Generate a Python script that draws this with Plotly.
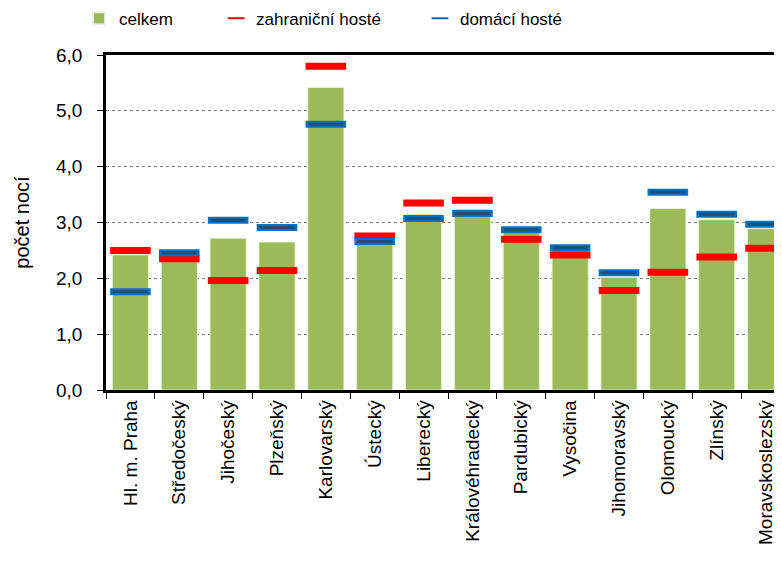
import plotly.graph_objects as go

categories = ["Hl. m. Praha", "Středočeský", "Jihočeský", "Plzeňský", "Karlovarský",
              "Ústecký", "Liberecký", "Královéhradecký", "Pardubický", "Vysočina",
              "Jihomoravský", "Olomoucký", "Zlínský", "Moravskoslezský"]
celkem = [2.42, 2.45, 2.72, 2.65, 5.42, 2.70, 3.15, 3.24, 2.86, 2.54, 2.02, 3.25, 3.05, 2.89]
zahranicni = [2.50, 2.35, 1.96, 2.14, 5.80, 2.76, 3.35, 3.40, 2.70, 2.42, 1.78, 2.11, 2.38, 2.54]
domaci = [1.76, 2.46, 3.04, 2.91, 4.76, 2.66, 3.07, 3.16, 2.87, 2.55, 2.10, 3.54, 3.15, 2.97]
y_ticks = [0, 1, 2, 3, 4, 5, 6]

FONT = "Liberation Sans, Arial, sans-serif"

fig = go.Figure()
fig.add_trace(go.Bar(
    x=categories, y=celkem, name="celkem", width=0.74,
    marker=dict(color="#9BBB59", line=dict(color="rgba(235,242,225,0.9)", width=1)),
    legend="legend",
))
fig.add_trace(go.Scatter(
    x=categories, y=zahranicni, name="zahraniční hosté", mode="markers",
    marker=dict(symbol="line-ew", size=29, color="#FF0000",
                line=dict(color="#FF0000", width=7)),
    legend="legend2",
))
fig.add_trace(go.Scatter(
    x=categories, y=domaci, name="domácí hosté", mode="markers",
    marker=dict(symbol="line-ew", size=29, color="#0070C0",
                line=dict(color="#0070C0", width=7)),
    legend="legend3",
))
fig.add_trace(go.Scatter(
    x=categories, y=domaci, name="domácí hosté", mode="markers", showlegend=False,
    marker=dict(symbol="line-ew", size=25, color="#1F4E79",
                line=dict(color="#1F4E79", width=3)),
    hoverinfo="skip",
))

legend_common = dict(orientation="h", xref="paper", yref="paper", y=1.108, yanchor="middle",
                     xanchor="left", font=dict(family=FONT, size=17, color="#000"),
                     bgcolor="rgba(0,0,0,0)", itemsizing="constant", itemwidth=30)

# page body has a small margin, so the figure is offset to compensate;
# the plot area runs past the right edge of the window as in the reference
fig.update_layout(
    width=782, height=555,
    margin=dict(l=98, r=0, t=47, b=173, autoexpand=False),
    paper_bgcolor="white", plot_bgcolor="white",
    separators=", ",
    font=dict(family=FONT, color="#000"),
    legend=dict(x=-0.0395, **legend_common),
    legend2=dict(x=0.161, **legend_common),
    legend3=dict(x=0.459, **legend_common),
    xaxis=dict(
        type="category", range=[-0.5, len(categories) - 0.5],
        showline=True, linecolor="#000", linewidth=2.5, mirror=True,
        ticks="outside", ticklen=6, tickcolor="#000", tickwidth=1, tickson="boundaries",
        tickangle=-90, tickfont=dict(family=FONT, size=19, color="#000"),
        showgrid=False, automargin=False,
    ),
    yaxis=dict(
        range=[0, 6], tickvals=y_ticks, tickformat=".1f",
        showline=True, linecolor="#000", linewidth=2.5, mirror=False,
        ticks="outside", ticklen=6, tickcolor="#000", tickwidth=1,
        ticklabelstandoff=11,
        tickfont=dict(family=FONT, size=19, color="#000"),
        showgrid=True, gridcolor="#7F7F7F", griddash="dot", gridwidth=1,
        zeroline=False, automargin=False,
        title=dict(text="počet nocí", font=dict(family=FONT, size=20, color="#000"), standoff=22),
    ),
)

fig.write_html("out.html")
